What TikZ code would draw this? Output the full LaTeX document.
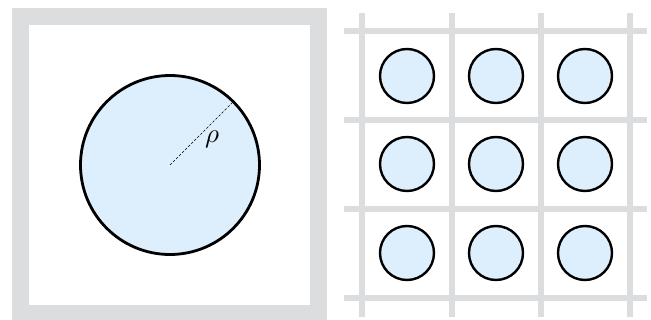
\documentclass[tikz,border=0pt]{standalone}
\definecolor{framegray}{HTML}{DCDDDF}
\definecolor{cellblue}{HTML}{DDEEFC}
\begin{document}
\begin{tikzpicture}[x=1pt,y=-1pt,
  bigcirc/.style={draw=black,fill=cellblue,line width=2.8pt},
  smallcirc/.style={draw=black,fill=cellblue,line width=2.4pt},
  gridline/.style={draw=framegray,line width=6pt},
  framebox/.style={draw=framegray,line width=17pt}]
\useasboundingbox (0,0) rectangle (651,320);
% left panel
\draw[framebox] (20.5,16.5) rectangle (318,313.5);
\draw[bigcirc] (170,165) circle (89.5);
\coordinate (c0) at (170,165);
\coordinate (r0) at (233,102);
\draw[line width=0.7pt,dash pattern=on 2.5pt off 1.8pt] (c0) -- (r0);
\node[scale=2.7] (rho) at (212,139) {$\rho$};
% right panel grid
\foreach \x in {362,452,541,630} \draw[gridline] (\x,13) -- (\x,317);
\foreach \y in {31,120,209,298} \draw[gridline] (344,\y) -- (647,\y);
\foreach \x in {407,496,585} \foreach \y in {76,164,253}
  \draw[smallcirc] (\x,\y) circle (27);
\end{tikzpicture}
\end{document}
